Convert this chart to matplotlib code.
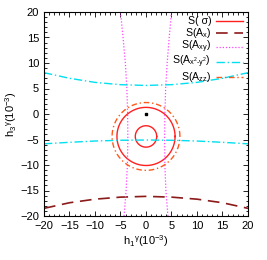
import numpy as np
import matplotlib
matplotlib.use("Agg")
import matplotlib.pyplot as plt
from matplotlib.lines import Line2D
from matplotlib.ticker import MultipleLocator

# S(sigma): two circles (center, radius)
sig_center = (0.0, -4.4)
sig_radii = [2.1, 5.7]
# S(A_zz): circle
azz_center = (0.0, -4.4)
azz_radius = 6.65

# S(A_x): lower branch
ax_x = [-20, -15, -10, -5, 0, 5, 10, 15, 20]
ax_y = [-18.5, -17.4, -16.7, -16.3, -16.15, -16.3, -16.7, -17.4, -18.5]

# S(A_xy): two nearly vertical branches
axy_y = [-20, -15, -10, -5, 0, 5, 10, 15, 20]
axy_left = [-4.3, -3.9, -3.65, -3.55, -3.6, -3.75, -4.05, -4.5, -5.0]
axy_right = [4.3, 3.9, 3.7, 3.65, 3.7, 3.85, 4.15, 4.55, 5.0]

# S(A_x2-y2): two nearly horizontal branches
axx_x = [-20, -15, -10, -5, 0, 5, 10, 15, 20]
axx_up = [8.1, 7.0, 6.2, 5.75, 5.6, 5.75, 6.2, 7.0, 8.1]
axx_lo = [-5.85, -5.55, -5.3, -5.15, -5.1, -5.15, -5.3, -5.55, -5.85]

star = (0.0, 0.0)

labels = ["S( σ)", "S(A$_\\mathregular{x}$)", "S(A$_\\mathregular{xy}$)",
          "S(A$_\\mathregular{x^2\\text{-}y^2}$)", "S(A$_\\mathregular{zz}$)"]

plt.rcParams['font.family'] = ['Liberation Sans', 'DejaVu Sans']
plt.rcParams['mathtext.fontset'] = 'custom'
plt.rcParams['mathtext.rm'] = 'Liberation Sans'
plt.rcParams['mathtext.it'] = 'Liberation Sans'
plt.rcParams['font.size'] = 8

fig = plt.figure(figsize=(2.67, 2.60), dpi=100)
ax = fig.add_axes([44/267, 1 - 216/260, 204/267, 204/260])

c_sig = dict(color="#ff2020", lw=1.0)
c_ax = dict(color="#8b1a1a", lw=1.2, ls=(0, (7, 4)))
c_axy = dict(color="#ff44ff", lw=0.9, ls=(0, (1, 1.5)))
c_axx = dict(color="#00e0f0", lw=1.0, ls=(0, (6, 2, 1, 2)))
c_azz = dict(color="#ff5a1a", lw=1.0, ls=(0, (4, 2, 1, 2)))

t = np.linspace(0, 2*np.pi, 300)
for r in sig_radii:
    ax.plot(sig_center[0] + r*np.cos(t), sig_center[1] + r*np.sin(t), **c_sig)
ax.plot(ax_x, ax_y, **c_ax)
ax.plot(axy_left, axy_y, **c_axy)
ax.plot(axy_right, axy_y, **c_axy)
ax.plot(axx_x, axx_up, **c_axx)
ax.plot(axx_x, axx_lo, **c_axx)
ax.plot(azz_center[0] + azz_radius*np.cos(t), azz_center[1] + azz_radius*np.sin(t), **c_azz)
ax.plot([star[0]], [star[1]], marker="s", ms=1.8, color="black", ls="none")

ax.set_xlim(-20, 20)
ax.set_ylim(-20, 20)
ax.xaxis.set_major_locator(MultipleLocator(5))
ax.yaxis.set_major_locator(MultipleLocator(5))
ax.xaxis.set_minor_locator(MultipleLocator(1))
ax.yaxis.set_minor_locator(MultipleLocator(1))
ax.tick_params(which="both", direction="in", top=True, right=True, width=0.6)
ax.tick_params(which="major", length=3.5)
ax.tick_params(which="minor", length=1.8)
for s in ax.spines.values():
    s.set_linewidth(0.8)

ax.set_xlabel("h$_\\mathregular{1}$$^\\mathregular{γ}$(10$^\\mathregular{-3}$)", labelpad=2)
ax.set_ylabel("h$_\\mathregular{3}$$^\\mathregular{γ}$(10$^\\mathregular{-3}$)", labelpad=1)

# gnuplot-style key: text right aligned, sample to the right
styles = [c_sig, c_ax, c_axy, c_axx, c_azz]
key_y = [0.956, 0.897, 0.828, 0.755, 0.681]
for lab, st, yy in zip(labels, styles, key_y):
    ax.text(0.82, yy, lab, transform=ax.transAxes, ha="right", va="center", fontsize=7.6)
    ax.add_line(Line2D([0.843, 0.975], [yy, yy], transform=ax.transAxes, **st))

fig.savefig("out.png", dpi=100)
